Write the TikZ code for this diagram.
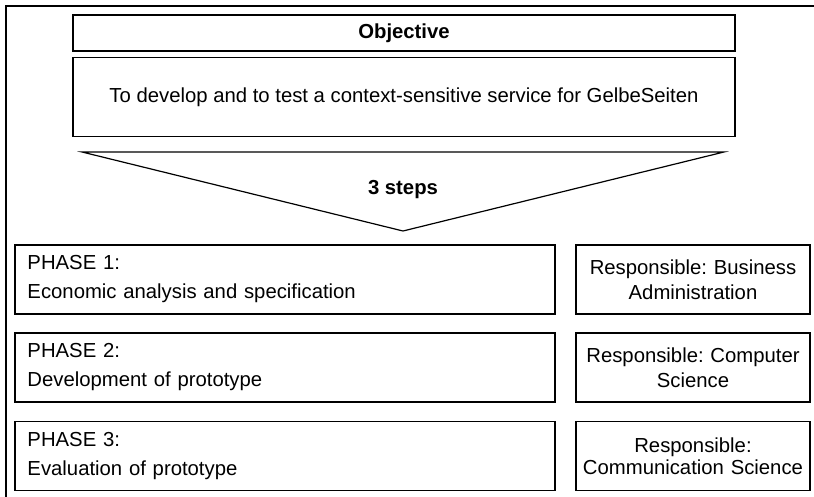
\documentclass[tikz,border=0pt]{standalone}
\usepackage{fontspec}
\setmainfont{Liberation Sans}
\frenchspacing
\begin{document}
\begin{tikzpicture}[x=1bp,y=-1bp,
  every node/.style={font=\fontsize{20.3bp}{29bp}\selectfont},
  box/.style={draw, line width=1.3bp, inner sep=0pt},
  phasebox/.style={box, minimum width=540bp, minimum height=69bp, text width=515bp, align=left},
  respbox/.style={box, minimum width=234bp, minimum height=69bp, text width=230bp, align=center},
  frame/.style={line width=2bp}
]
\useasboundingbox (0,0) rectangle (814,497);
% outer frame (cropped)
\coordinate (fbl) at (6,498);
\coordinate (ftl) at (6,6);
\coordinate (ftr) at (815,6);
\draw[frame] (fbl) -- (ftl) -- (ftr);

% objective boxes
\node[box, minimum width=662bp, minimum height=36bp, font=\fontsize{20.3bp}{29bp}\selectfont\bfseries] (obj) at (404,33) {Objective};
\node[box, minimum width=662bp, minimum height=79bp] (goal) at (404,97) {To develop and to test a context-sensitive service for GelbeSeiten};

% funnel triangle
\coordinate (tl) at (82,152);
\coordinate (tr) at (724,152);
\coordinate (tb) at (403,231);
\draw[line width=1.2bp, line join=miter] (tl) -- (tr) -- (tb) -- cycle;
\node[font=\fontsize{20.3bp}{29bp}\selectfont\bfseries] (steps) at (403,190) {3 steps};

% phases
\node[phasebox] (p1) at (285,279.5) {PHASE 1:\\Economic analysis and specification};
\node[phasebox] (p2) at (285,367.5) {PHASE 2:\\Development of prototype};
\node[phasebox] (p3) at (285,456) {PHASE 3:\\Evaluation of prototype};

% responsibilities
\node[respbox, font=\fontsize{20.3bp}{25bp}\selectfont] (r1) at (693,279.5) {Responsible: Business\\Administration};
\node[respbox, font=\fontsize{20.3bp}{25bp}\selectfont] (r2) at (693,367.5) {Responsible: Computer\\Science};
\node[respbox, font=\fontsize{20.3bp}{22bp}\selectfont] (r3) at (693,456) {Responsible:\\Communication Science};
\end{tikzpicture}
\end{document}
